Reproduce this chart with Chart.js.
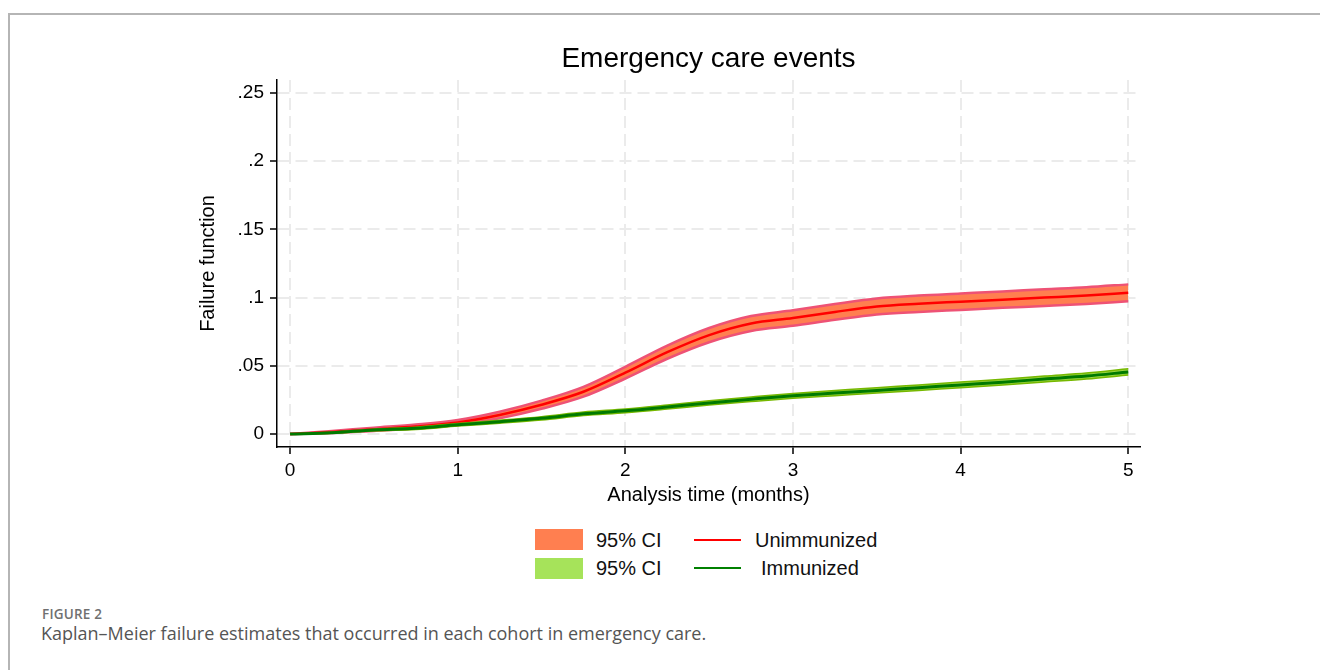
<!DOCTYPE html>
<html>
<head>
<meta charset="utf-8">
<script src="https://cdn.jsdelivr.net/npm/chart.js@4.4.1/dist/chart.umd.min.js"></script>
<style>
  body { margin: 0; width: 1320px; height: 670px; background: #fff; position: relative; overflow: hidden; font-family: "Liberation Sans", Arial, sans-serif; }
  #frame { position: absolute; left: 8px; top: 13px; width: 1320px; height: 670px; border-top: 2px solid #b5b5b5; border-left: 2px solid #b5b5b5; }
  #wrap { position: absolute; left: 150px; top: 0; width: 1117px; height: 520px; }
  .box { position: absolute; left: 535px; width: 48px; }
  .txt { position: absolute; font-size: 20px; color: #111; line-height: 20px; }
  .ln { position: absolute; left: 694px; width: 47px; height: 2px; }
  #figno { position: absolute; left: 42px; top: 605px; font-family: "Open Sans", sans-serif; font-size: 13.5px; font-weight: 600; letter-spacing: 0.2px; color: #707070; }
  #cap { position: absolute; left: 41px; top: 621px; font-family: "Open Sans", sans-serif; font-size: 18px; color: #555; }
</style>
</head>
<body>
<div id="frame"></div>
<div id="wrap"><canvas id="kmChart"></canvas></div>

<div class="box" style="top:529px;height:21px;background:#ff7f50;"></div>
<div class="box" style="top:558px;height:21px;background:#a6e35a;"></div>
<div class="txt" style="left:596px;top:530px;">95% CI</div>
<div class="txt" style="left:596px;top:558px;">95% CI</div>
<div class="ln" style="top:539px;background:#ff0000;"></div>
<div class="ln" style="top:567px;background:#008000;"></div>
<div class="txt" style="left:755px;top:530px;">Unimmunized</div>
<div class="txt" style="left:761px;top:558px;">Immunized</div>

<div id="figno">FIGURE 2</div>
<div id="cap">Kaplan–Meier failure estimates that occurred in each cohort in emergency care.</div>

<script>
// Analysis time (months)
const times = [0, 0.25, 0.5, 0.75, 1, 1.25, 1.5, 1.75, 2, 2.25, 2.5, 2.75, 3, 3.25, 3.5, 3.75, 4, 4.25, 4.5, 4.75, 5];

// Unimmunized: failure estimate and 95% CI
const unimm = [0, 0.0015, 0.0035, 0.0055, 0.0085, 0.014, 0.0215, 0.031, 0.045, 0.060, 0.0725, 0.081, 0.085, 0.0895, 0.0935, 0.0955, 0.097, 0.0985, 0.100, 0.1015, 0.1035];
const unimmLow = [0, 0.0007, 0.0023, 0.004, 0.0067, 0.0116, 0.0185, 0.0274, 0.0407, 0.0552, 0.0673, 0.0755, 0.0793, 0.0837, 0.0876, 0.0895, 0.091, 0.0925, 0.0939, 0.0954, 0.0973];
const unimmHigh = [0, 0.0023, 0.0047, 0.007, 0.0103, 0.0164, 0.0245, 0.0346, 0.0493, 0.0648, 0.0777, 0.0865, 0.0907, 0.0953, 0.0994, 0.1015, 0.103, 0.1045, 0.1061, 0.1076, 0.1097];

// Immunized: failure estimate and 95% CI
const imm = [0, 0.001, 0.003, 0.0042, 0.0068, 0.009, 0.0115, 0.0148, 0.017, 0.0198, 0.0228, 0.0255, 0.028, 0.030, 0.032, 0.034, 0.036, 0.038, 0.0403, 0.0425, 0.0455];
const immLow = [0, 0.0006, 0.0024, 0.0034, 0.0058, 0.0079, 0.0103, 0.0135, 0.0156, 0.0183, 0.0212, 0.0238, 0.0262, 0.0281, 0.030, 0.032, 0.0339, 0.0359, 0.0381, 0.0403, 0.0432];
const immHigh = [0, 0.0014, 0.0036, 0.005, 0.0078, 0.0101, 0.0127, 0.0161, 0.0184, 0.0213, 0.0244, 0.0272, 0.0298, 0.0319, 0.034, 0.036, 0.0381, 0.0401, 0.0425, 0.0447, 0.0478];

const xTicks = [0, 1, 2, 3, 4, 5];
const yTicks = [0, 0.05, 0.1, 0.15, 0.2, 0.25];
const yTickLabels = ['0', '.05', '.1', '.15', '.2', '.25'];

const pts = arr => arr.map((v, i) => ({ x: times[i], y: v }));

const lineStyle = { pointRadius: 0, cubicInterpolationMode: 'monotone', fill: false };

const ctx = document.getElementById('kmChart').getContext('2d');
const kmChart = new Chart(ctx, {
  type: 'line',
  data: {
    datasets: [
      { ...lineStyle, label: 'Immunized', data: pts(imm), borderColor: '#007a00', borderWidth: 3 },
      { ...lineStyle, label: 'lowI', data: pts(immLow), borderColor: '#76b800', borderWidth: 1.5 },
      { ...lineStyle, label: '95% CI', data: pts(immHigh), borderColor: '#76b800', borderWidth: 1.5, fill: 1, backgroundColor: '#99d640' },
      { ...lineStyle, label: 'Unimmunized', data: pts(unimm), borderColor: '#ff0000', borderWidth: 2.5 },
      { ...lineStyle, label: 'lowU', data: pts(unimmLow), borderColor: '#ee5275', borderWidth: 2.5 },
      { ...lineStyle, label: '95% CI', data: pts(unimmHigh), borderColor: '#ee5275', borderWidth: 2.5, fill: 4, backgroundColor: '#ff7f50' }
    ]
  },
  options: {
    responsive: true,
    maintainAspectRatio: false,
    animation: false,
    layout: { padding: { left: 0, right: 127, top: 0, bottom: 11 } },
    plugins: {
      legend: { display: false },
      tooltip: { enabled: false },
      title: {
        display: true,
        fullSize: false,
        text: 'Emergency care events',
        color: '#000',
        font: { family: 'Liberation Sans', size: 28, weight: 'normal' },
        padding: { top: 42, bottom: 4.4 }
      }
    },
    scales: {
      x: {
        type: 'linear',
        min: -0.078,
        max: 5.07,
        afterBuildTicks: s => { s.ticks = xTicks.map(v => ({ value: v })); },
        afterFit: s => { s.height = 62; },
        ticks: { color: '#000', font: { family: 'Liberation Sans', size: 19 }, padding: 5, maxRotation: 0 },
        grid: { color: '#ebebeb', lineWidth: 2, tickColor: '#000', tickBorderDash: [1, 0], tickWidth: 1.5, tickLength: 7 },
        border: { color: '#000', width: 1.5, dash: [12, 6] },
        title: { display: true, text: 'Analysis time (months)', color: '#000', font: { family: 'Liberation Sans', size: 20 }, padding: { top: 0, bottom: 1.6 } }
      },
      y: {
        min: -0.0095,
        max: 0.2595,
        afterBuildTicks: s => { s.ticks = yTicks.map(v => ({ value: v })); },
        afterFit: s => { s.width = 127; },
        ticks: {
          color: '#000', font: { family: 'Liberation Sans', size: 19 }, padding: 6,
          callback: v => yTickLabels[yTicks.indexOf(v)]
        },
        grid: { color: '#ebebeb', lineWidth: 2, tickColor: '#000', tickBorderDash: [1, 0], tickWidth: 1.5, tickLength: 7 },
        border: { color: '#000', width: 1.5, dash: [12, 6] },
        title: { display: true, text: 'Failure function', color: '#000', font: { family: 'Liberation Sans', size: 20 }, padding: { top: 46.6, bottom: 0 } }
      }
    }
  }
});
</script>
</body>
</html>
